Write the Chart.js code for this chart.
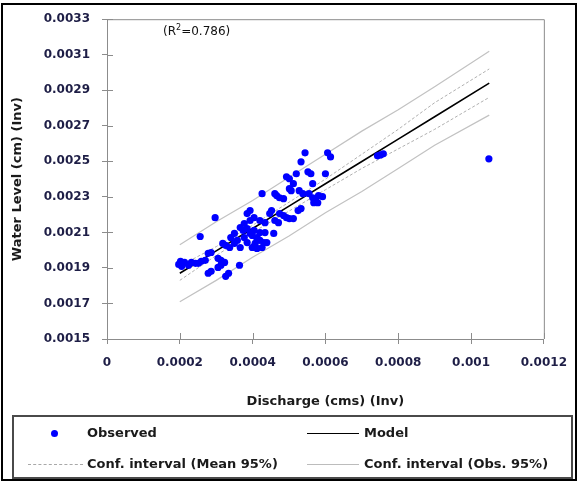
<!DOCTYPE html>
<html><head><meta charset="utf-8">
<script src="https://cdn.jsdelivr.net/npm/chart.js@4.4.1/dist/chart.umd.min.js"></script>
<style>
html,body{margin:0;padding:0;background:#fff;}
#wrap{position:relative;width:579px;height:482px;overflow:hidden;background:#fff;}
#frame{position:absolute;left:1px;top:3px;width:576px;height:478px;border:2px solid #000;box-sizing:border-box;pointer-events:none;}
#c{position:absolute;left:0;top:0;}
.txt{position:absolute;font-family:"DejaVu Sans",sans-serif;color:#1a1a1a;white-space:nowrap;line-height:16px;}
#r2{left:163px;top:23px;font-size:12px;font-weight:normal;color:#111;}
#r2 sup{font-size:8px;vertical-align:5px;line-height:0;}
#legend{position:absolute;left:12px;top:415px;width:561px;height:64px;border:2px solid #4a4a4a;box-sizing:border-box;background:#fff;}
.lt{font-size:13px;font-weight:bold;}
.sw{position:absolute;height:0;}
.dot{position:absolute;width:7px;height:7px;border-radius:50%;background:#0000ff;}
</style></head>
<body>
<div id="wrap">
<canvas id="c" width="579" height="482"></canvas>
<div id="frame"></div>
<div id="r2" class="txt">(R<sup>2</sup>=0.786)</div>
<div id="legend"></div>
</div>
<script>
// ---- data ----
const obsX = [0.000197,0.000202,0.000208,0.000205,0.000213,0.000224,0.000232,0.000243,0.000251,0.000259,
0.000270,0.000256,0.000297,0.000278,0.000286,0.000326,0.000334,0.000364,0.000305,0.000313,
0.000305,0.000313,0.000323,0.000278,0.000286,0.000318,0.000326,0.000337,0.000340,0.000350,
0.000350,0.000358,0.000366,0.000377,0.000385,0.000393,0.000404,0.000412,0.000420,0.000399,
0.000407,0.000412,0.000385,0.000393,0.000404,0.000366,0.000377,0.000385,0.000426,0.000431,
0.000399,0.000412,0.000420,0.000434,0.000439,0.000458,0.000393,0.000420,0.000434,0.000461,
0.000471,0.000452,0.000447,0.000474,0.000485,0.000493,0.000501,0.000512,0.000525,0.000533,
0.000426,0.000461,0.000466,0.000474,0.000485,0.000493,0.000501,0.000512,0.000520,0.000528,
0.000538,0.000501,0.000506,0.000544,0.000533,0.000606,0.000614,0.000600,0.000552,0.000560,
0.000565,0.000555,0.000565,0.000573,0.000581,0.000579,0.000568,0.000592,0.000743,0.000751,
0.000759,0.001049,0.000404,0.000374];
const obsY = [0.001920,0.001937,0.001926,0.001909,0.001931,0.001915,0.001931,0.001926,0.001926,0.001937,
0.001943,0.002077,0.002183,0.001870,0.001881,0.001853,0.001870,0.001915,0.001903,0.001915,
0.001954,0.001943,0.001931,0.001982,0.001987,0.002038,0.002027,0.002015,0.002071,0.002094,
0.002038,0.002055,0.002015,0.002071,0.002043,0.002094,0.002111,0.002071,0.002099,0.002015,
0.002038,0.002010,0.002206,0.002223,0.002183,0.002127,0.002150,0.002122,0.002015,0.002043,
0.002083,0.002066,0.002055,0.002099,0.002043,0.002094,0.002167,0.002167,0.002155,0.002167,
0.002155,0.002223,0.002206,0.002206,0.002195,0.002183,0.002178,0.002178,0.002223,0.002234,
0.002318,0.002318,0.002307,0.002295,0.002290,0.002413,0.002402,0.002374,0.002430,0.002335,
0.002318,0.002346,0.002335,0.002548,0.002497,0.002548,0.002525,0.002430,0.002441,0.002430,
0.002374,0.002318,0.002295,0.002290,0.002307,0.002267,0.002267,0.002301,0.002531,0.002536,
0.002542,0.002514,0.002021,0.002111];

const lineX     = [0.0002, 0.0003, 0.0004, 0.0005, 0.0006, 0.0007, 0.0008, 0.0009, 0.00105];
const modelY    = [0.001870,0.001996,0.002122,0.002248,0.002374,0.002499,0.002625,0.002751,0.002940];
const meanUpY   = [0.00191,0.00202,0.00214,0.00227,0.00240,0.00254,0.00268,0.00283,0.00302];
const meanLoY   = [0.00183,0.00197,0.00210,0.00222,0.00234,0.00246,0.00257,0.00268,0.00286];
const obsUpY    = [0.00203,0.00216,0.00228,0.00241,0.00254,0.00267,0.00279,0.00292,0.00312];
const obsLoY    = [0.00171,0.00183,0.00196,0.00208,0.00221,0.00233,0.00246,0.00259,0.00276];

const xTickValues = [0, 0.0002, 0.0004, 0.0006, 0.0008, 0.001, 0.0012];
const xTickLabels = ['0','0.0002','0.0004','0.0006','0.0008','0.001','0.0012'];
const yTickValues = [0.0015,0.0017,0.0019,0.0021,0.0023,0.0025,0.0027,0.0029,0.0031,0.0033];
const yTickLabels = ['0.0015','0.0017','0.0019','0.0021','0.0023','0.0025','0.0027','0.0029','0.0031','0.0033'];

const legendNames = ['Observed','Model','Conf. interval (Mean 95%)','Conf. interval (Obs. 95%)'];
const xTitle = 'Discharge (cms) (Inv)';
const yTitle = 'Water Level (cm) (Inv)';

// ---- build ----
const pts = (xs, ys) => xs.map((x, i) => ({x: x, y: ys[i]}));
const AX = '#8c8c8c';
const TICKCOL = '#1e1e46';
const FONT = '"DejaVu Sans", sans-serif';

const frameTicks = {
  id: 'frameTicks',
  beforeDatasetsDraw(chart) {
    const {ctx, chartArea: a, scales: {x, y}} = chart;
    ctx.save();
    ctx.strokeStyle = AX; ctx.lineWidth = 1;
    ctx.beginPath();
    ctx.moveTo(a.left, a.top + 0.5); ctx.lineTo(a.right + 0.5, a.top + 0.5);
    ctx.lineTo(a.right + 0.5, a.bottom);
    y.ticks.forEach(t => { const p = Math.round(y.getPixelForValue(t.value)) + 0.5; ctx.moveTo(a.left, p); ctx.lineTo(a.left + 6, p); });
    x.ticks.forEach(t => { const p = Math.round(x.getPixelForValue(t.value)) + 0.5; ctx.moveTo(p, a.bottom); ctx.lineTo(p, a.bottom - 6); });
    ctx.stroke();
    ctx.restore();
  }
};

const bandLine = (data, dash, color, w) => ({
  data: data, showLine: true, pointRadius: 0, borderColor: color, borderWidth: w,
  borderDash: dash, fill: false, tension: 0
});

new Chart(document.getElementById('c'), {
  type: 'scatter',
  data: {
    datasets: [
      {label: legendNames[0], data: pts(obsX, obsY), pointRadius: 3.6, pointBackgroundColor: '#0000ff',
       pointBorderWidth: 0, borderColor: '#0000ff', order: 0},
      Object.assign(bandLine(pts(lineX, modelY), [], '#000000', 1.6), {label: legendNames[1], order: 1}),
      Object.assign(bandLine(pts(lineX, meanUpY), [3, 2], '#b0b0b0', 1), {label: legendNames[2], order: 2}),
      Object.assign(bandLine(pts(lineX, meanLoY), [3, 2], '#b0b0b0', 1), {label: legendNames[2], order: 2}),
      Object.assign(bandLine(pts(lineX, obsUpY), [], '#c2c2c2', 1.2), {label: legendNames[3], order: 3}),
      Object.assign(bandLine(pts(lineX, obsLoY), [], '#c2c2c2', 1.2), {label: legendNames[3], order: 3})
    ]
  },
  options: {
    responsive: false, animation: false, devicePixelRatio: 1,
    layout: {padding: {left: 10, right: 26, top: 18, bottom: 73}},
    plugins: {legend: {display: false}, tooltip: {enabled: false}},
    scales: {
      x: {
        type: 'linear', min: 0, max: 0.0012,
        afterBuildTicks: s => { s.ticks = xTickValues.map(v => ({value: v})); },
        afterFit: s => { s.height = 70; },
        ticks: {callback: (v, i) => xTickLabels[i], color: TICKCOL, padding: 12,
                font: {family: FONT, size: 12, weight: 'bold'}, maxRotation: 0, autoSkip: false},
        grid: {drawOnChartArea: false, tickLength: 5, color: AX, lineWidth: 1},
        border: {color: AX, width: 1},
        title: {display: true, text: xTitle, color: '#1a1a1a', padding: 0,
                font: {family: FONT, size: 13, weight: 'bold'}}
      },
      y: {
        type: 'linear', min: 0.0015, max: 0.0033,
        afterBuildTicks: s => { s.ticks = yTickValues.map(v => ({value: v})); },
        afterFit: s => { s.width = 97; },
        ticks: {callback: (v, i) => yTickLabels[i], color: TICKCOL, padding: 12,
                font: {family: FONT, size: 12, weight: 'bold'}, autoSkip: false},
        grid: {drawOnChartArea: false, tickLength: 5, color: AX, lineWidth: 1},
        border: {color: AX, width: 1},
        title: {display: true, text: yTitle, color: '#1a1a1a', padding: 0,
                font: {family: FONT, size: 13, weight: 'bold'}}
      }
    }
  },
  plugins: [frameTicks]
});

// ---- HTML legend (2 x 2 grid) ----
const lg = document.getElementById('legend');
const items = [
  {name: legendNames[0], kind: 'dot',  sx: 40,  tx: 73,  y: 16},
  {name: legendNames[1], kind: 'line', sx: 293, ex: 345, tx: 350, y: 16, col: '#000', w: 1, st: 'solid'},
  {name: legendNames[2], kind: 'line', sx: 14,  ex: 69,  tx: 73,  y: 47, col: '#a8a8a8', w: 1, st: 'dashed'},
  {name: legendNames[3], kind: 'line', sx: 293, ex: 345, tx: 350, y: 47, col: '#bcbcbc', w: 1, st: 'solid'}
];
items.forEach(it => {
  if (it.kind === 'dot') {
    const d = document.createElement('div'); d.className = 'dot';
    d.style.left = (it.sx - 3.5) + 'px'; d.style.top = (it.y - 3.5) + 'px'; lg.appendChild(d);
  } else {
    const l = document.createElement('div'); l.className = 'sw';
    l.style.left = it.sx + 'px'; l.style.width = (it.ex - it.sx) + 'px'; l.style.top = it.y + 'px';
    l.style.borderTop = it.w + 'px ' + it.st + ' ' + it.col; lg.appendChild(l);
  }
  const t = document.createElement('div'); t.className = 'txt lt'; t.textContent = it.name;
  t.style.left = it.tx + 'px'; t.style.top = (it.y - 8) + 'px'; lg.appendChild(t);
});
</script>
</body></html>
